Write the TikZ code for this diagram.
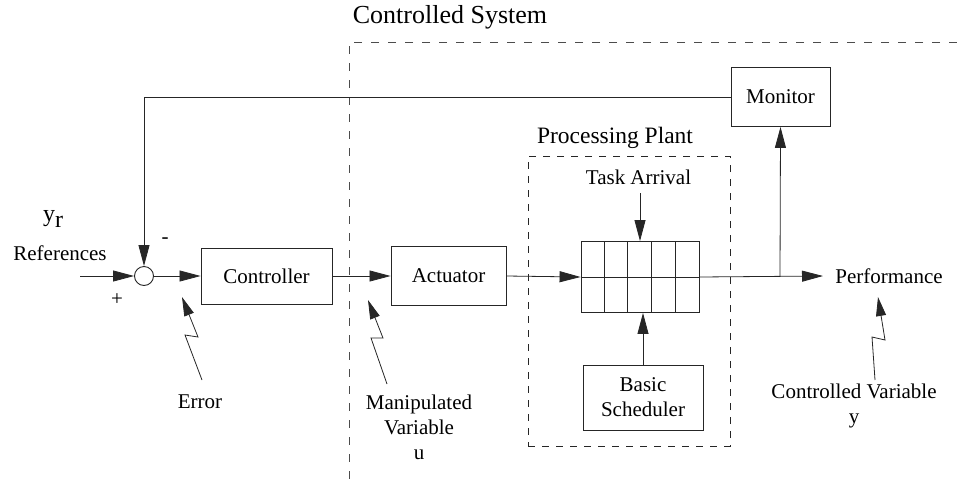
\documentclass[tikz,border=0pt]{standalone}
\usepackage{fontspec}
\setmainfont{Liberation Serif}
\usetikzlibrary{arrows.meta,calc}
\begin{document}
\begin{tikzpicture}[x=1pt,y=-1pt,
  every node/.style={font=\fontsize{21}{25}\selectfont, inner sep=0pt, text=black},
  ln/.style={line width=0.8pt, draw=black!85},
  blk/.style={draw=black!85, line width=0.9pt},
  arr/.style={ln, -{Triangle[length=21pt,width=11pt]}},
  zarr/.style={ln, -{Triangle[length=19pt,width=10pt]}},
  sysdash/.style={line width=0.8pt, draw=black!70, dash pattern=on 8pt off 9pt},
  ppdash/.style={line width=0.8pt, draw=black!85, dash pattern=on 7pt off 7pt}]
\useasboundingbox (0,0) rectangle (957,482);

% controlled system boundary
\draw[sysdash] (957,42) -- (349,42) -- (349,482);
\node[font=\fontsize{26}{30}\selectfont] (cs) at (450,17) {Controlled System};

% processing plant
\node[draw, ppdash, minimum width=202pt, minimum height=290pt] (pp) at (629,301) {};
\node[font=\fontsize{23.5}{27}\selectfont] (ppl) at (615,138) {Processing Plant};

% blocks
\node[blk, circle, minimum size=19pt] (sum) at (144,276) {};
\node[blk, minimum width=131pt, minimum height=56pt] (ctrl) at (266.5,276) {Controller};
\node[blk, minimum width=115pt, minimum height=59pt] (act) at (448.5,276) {Actuator};
\node[blk, minimum width=118pt, minimum height=71pt] (q) at (640,277) {};
\foreach \i in {1,...,4} \draw[ln] ($(q.north west)+(\i*23.6,0)$) -- ++(0,71);
\draw[ln] (q.west) -- (q.east);
\node[blk, minimum width=99pt, minimum height=59pt] (mon) at (780.5,97) {Monitor};
\node[blk, minimum width=120pt, minimum height=65pt, align=center] (bs) at (643,397.5) {Basic\\Scheduler};

% texts
\node[font=\fontsize{24}{28}\selectfont] (yr) at (53,219) {y\raisebox{-0.22em}{r}};
\node (ref) at (60,253) {References};
\node (plus) at (117,300) {+};
\node (minus) at (165,241) {-};
\node (task) at (638.5,177) {Task Arrival};
\node (perf) at (889,276) {Performance};
\node (err) at (200,402) {Error};
\node[align=center] (mv) at (419,427) {Manipulated\\Variable\\u};
\node[align=center] (cv) at (854,406) {Controlled Variable\\y};

% coordinates
\coordinate (in) at (80,276);
\coordinate (br) at (780,276);
\coordinate (ta) at (640,193);
\coordinate (pin) at (823,276);

% connectors
\draw[arr] (in) -- (sum.west);
\draw[arr] (sum.east) -- (ctrl.west);
\draw[arr] (ctrl.east) -- (act.west);
\draw[arr] (act.east) -- (q.west);
\draw[arr] (q.east) -- (pin);
\draw[arr] (br) -- (mon.south);
\draw[arr] (mon.west) -| (sum.north);
\draw[arr] (ta) -- (q.north);
\draw[arr] (bs.north) -- (bs.north |- q.south);

% zigzag annotation arrows
\coordinate (e0) at (202,380);
\coordinate (e3) at (182,297);
\draw[zarr] (e0) -- (185,335) -- (198,337) -- (e3);
\coordinate (m0) at (387,384);
\coordinate (m3) at (368,300);
\draw[zarr] (m0) -- (371,338) -- (383,338) -- (m3);
\coordinate (c0) at (875,380);
\coordinate (c3) at (878,297);
\draw[zarr] (c0) -- (872,337) -- (885,340) -- (c3);
\end{tikzpicture}
\end{document}
